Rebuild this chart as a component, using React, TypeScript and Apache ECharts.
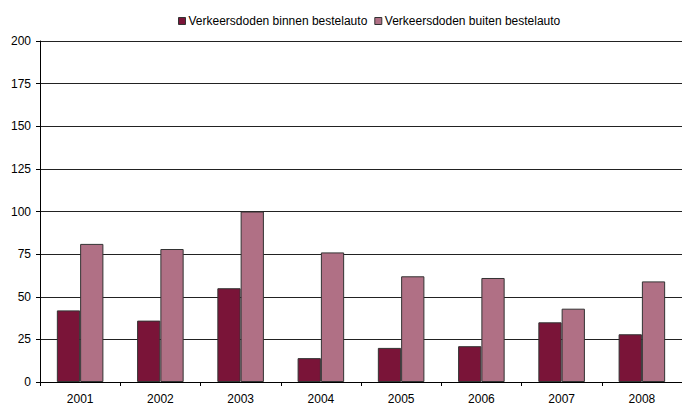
import React, { useEffect, useRef } from "react";
import * as echarts from "echarts";

const years = ["2001", "2002", "2003", "2004", "2005", "2006", "2007", "2008"];
const binnen = [42, 36, 55, 14, 20, 21, 35, 28];
const buiten = [81, 78, 100, 76, 62, 61, 43, 59];
const seriesNames = ["Verkeersdoden binnen bestelauto", "Verkeersdoden buiten bestelauto"];

export default function App() {
  const ref = useRef<HTMLDivElement>(null);
  useEffect(() => {
    if (!ref.current) return;
    const chart = echarts.init(ref.current, undefined, { renderer: "svg" });
    const font = "'Liberation Sans', Arial, sans-serif";
    chart.setOption({
      animation: false,
      textStyle: { fontFamily: font },
      legend: {
        left: 173,
        top: 10,
        itemWidth: 7,
        itemHeight: 7,
        itemGap: 7,
        icon: "rect",
        itemStyle: { borderColor: "#333", borderWidth: 1 },
        textStyle: { fontSize: 12, color: "#000", fontFamily: font, padding: [0, 0, 0, -2] },
        data: seriesNames,
      },
      grid: { left: 40, top: 41, bottom: 26, right: -12, containLabel: false },
      xAxis: {
        type: "category",
        data: years,
        axisLine: { lineStyle: { color: "#000", width: 1 } },
        axisTick: { show: true, length: 4, alignWithLabel: false, lineStyle: { color: "#000" } },
        axisLabel: { color: "#000", fontSize: 12, margin: 11, fontFamily: font },
      },
      yAxis: {
        type: "value",
        min: 0,
        max: 200,
        interval: 25,
        axisLine: { show: true, lineStyle: { color: "#000", width: 1 } },
        axisTick: { show: true, length: 4, lineStyle: { color: "#000" } },
        axisLabel: { color: "#000", fontSize: 12, margin: 9, fontFamily: font },
        splitLine: { show: true, lineStyle: { color: "#222", width: 1 } },
      },
      series: [
        {
          name: seriesNames[0],
          type: "bar",
          data: binnen,
          barGap: "0%",
          barCategoryGap: "42%",
          itemStyle: { color: "#7A1438", borderColor: "#333", borderWidth: 1 },
        },
        {
          name: seriesNames[1],
          type: "bar",
          data: buiten,
          barGap: "0%",
          barCategoryGap: "42%",
          itemStyle: { color: "#B07085", borderColor: "#333", borderWidth: 1 },
        },
      ],
    });
    return () => chart.dispose();
  }, []);
  return (
    <div
      ref={ref}
      style={{ position: "fixed", left: 0, top: 0, width: 682, height: 408, background: "#fff" }}
    />
  );
}
